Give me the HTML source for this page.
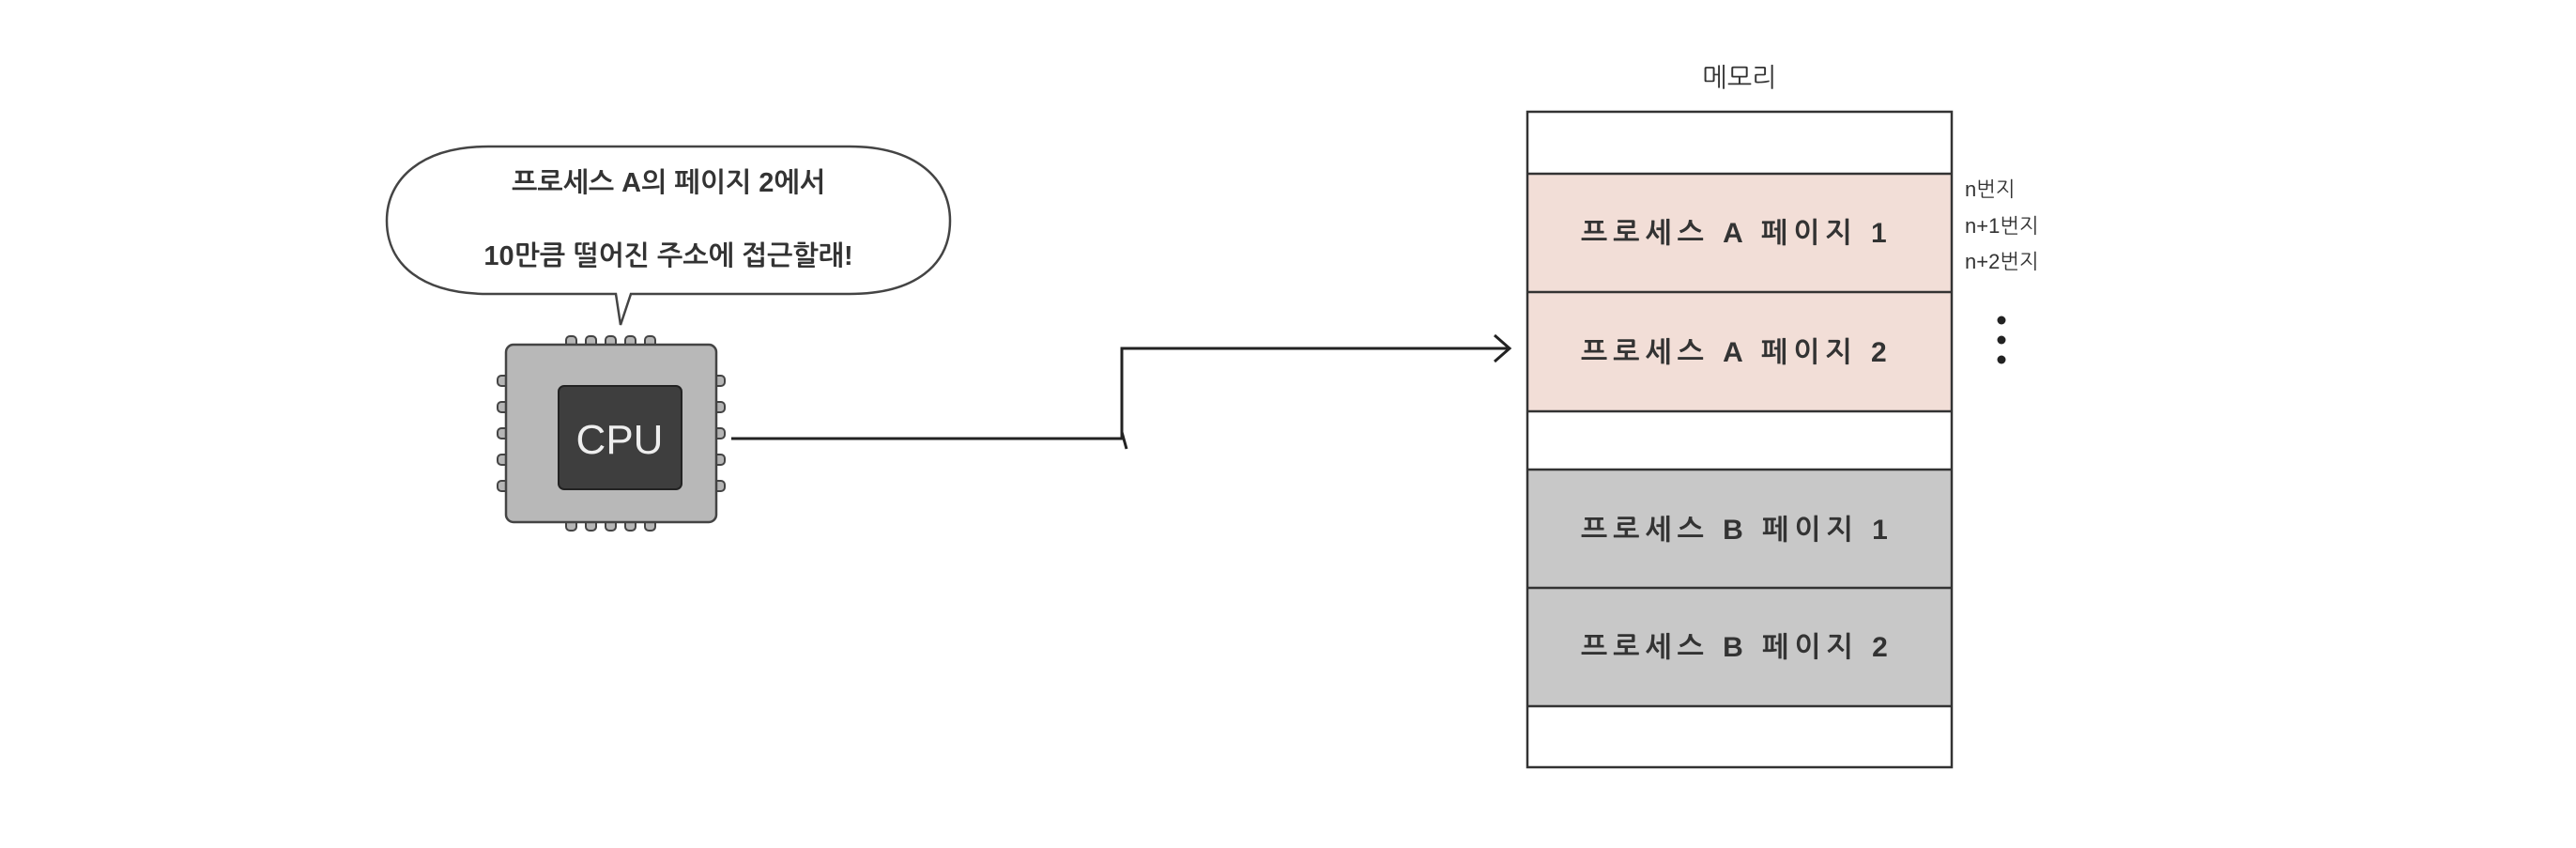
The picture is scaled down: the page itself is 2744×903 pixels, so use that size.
<!DOCTYPE html>
<html><head><meta charset="utf-8"><style>
html,body{margin:0;padding:0;background:#fff;}
svg text{font-family:"Liberation Sans","NanumGothic","Noto Sans CJK KR",sans-serif;fill:#333;}
</style></head><body>
<svg width="2744" height="898" viewBox="0 0 2744 898" xmlns="http://www.w3.org/2000/svg">
<rect width="2744" height="898" fill="#fff"/>
<!-- speech bubble -->
<path d="M520,156 L905,156 C975,156 1012,190 1012,235 C1012,282 975,313 905,313 L672,313 L661,346 L656,313 L520,313 C450,313 412,282 412,235 C412,190 450,156 520,156 Z" fill="#fff" stroke="#444" stroke-width="2.5"/>
<text x="712" y="204" font-size="29" text-anchor="middle" font-weight="bold">프로세스 A의 페이지 2에서</text>
<text x="712" y="282" font-size="29" text-anchor="middle" font-weight="bold">10만큼 떨어진 주소에 접근할래!</text>
<!-- CPU pins -->
<g fill="#b5b5b5" stroke="#444" stroke-width="2">
<rect x="603" y="358" width="11" height="14" rx="4"/><rect x="624" y="358" width="11" height="14" rx="4"/><rect x="645" y="358" width="11" height="14" rx="4"/><rect x="666" y="358" width="11" height="14" rx="4"/><rect x="687" y="358" width="11" height="14" rx="4"/>
<rect x="603" y="551" width="11" height="14" rx="4"/><rect x="624" y="551" width="11" height="14" rx="4"/><rect x="645" y="551" width="11" height="14" rx="4"/><rect x="666" y="551" width="11" height="14" rx="4"/><rect x="687" y="551" width="11" height="14" rx="4"/>
<rect x="530" y="400" width="14" height="11" rx="4"/><rect x="530" y="428" width="14" height="11" rx="4"/><rect x="530" y="456" width="14" height="11" rx="4"/><rect x="530" y="484" width="14" height="11" rx="4"/><rect x="530" y="512" width="14" height="11" rx="4"/>
<rect x="758" y="400" width="14" height="11" rx="4"/><rect x="758" y="428" width="14" height="11" rx="4"/><rect x="758" y="456" width="14" height="11" rx="4"/><rect x="758" y="484" width="14" height="11" rx="4"/><rect x="758" y="512" width="14" height="11" rx="4"/>
</g>
<rect x="539" y="367" width="224" height="189" rx="8" fill="#b8b8b8" stroke="#444" stroke-width="2.5"/>
<rect x="595" y="411" width="131" height="110" rx="6" fill="#3e3e3e" stroke="#222" stroke-width="2"/>
<text x="660" y="483" font-size="44" text-anchor="middle" style="fill:#eee">CPU</text>
<!-- connector -->
<path d="M779,467 L1195,467 L1195,371 L1606,371" fill="none" stroke="#222" stroke-width="3"/>
<path d="M1195,460 L1200,478" stroke="#222" stroke-width="3"/>
<path d="M1592,357 L1608,371 L1592,385" fill="none" stroke="#222" stroke-width="3"/>
<!-- memory -->
<text x="1853" y="92" font-size="28" text-anchor="middle">메모리</text>
<rect x="1627" y="119" width="452" height="698" fill="#fff"/>
<rect x="1627" y="185" width="452" height="253" fill="#f2ded7"/>
<rect x="1627" y="500" width="452" height="253" fill="#c8c8c8"/>
<g stroke="#333" stroke-width="2.5" fill="none">
<rect x="1627" y="119" width="452" height="698"/>
<line x1="1627" y1="185" x2="2079" y2="185"/><line x1="1627" y1="311" x2="2079" y2="311"/><line x1="1627" y1="438" x2="2079" y2="438"/><line x1="1627" y1="500" x2="2079" y2="500"/><line x1="1627" y1="626" x2="2079" y2="626"/><line x1="1627" y1="752" x2="2079" y2="752"/>
</g>
<g font-size="30" font-weight="bold" style="letter-spacing:6px">
<text x="1684" y="258">프로세스 A 페이지 1</text>
<text x="1684" y="385">프로세스 A 페이지 2</text>
<text x="1684" y="574">프로세스 B 페이지 1</text>
<text x="1684" y="699">프로세스 B 페이지 2</text>
</g>
<g font-size="22">
<text x="2093" y="209">n번지</text>
<text x="2093" y="248">n+1번지</text>
<text x="2093" y="286">n+2번지</text>
</g>
<circle cx="2132" cy="341" r="4.5" fill="#222"/><circle cx="2132" cy="362" r="4.5" fill="#222"/><circle cx="2132" cy="383" r="4.5" fill="#222"/>
</svg>
</body></html>
